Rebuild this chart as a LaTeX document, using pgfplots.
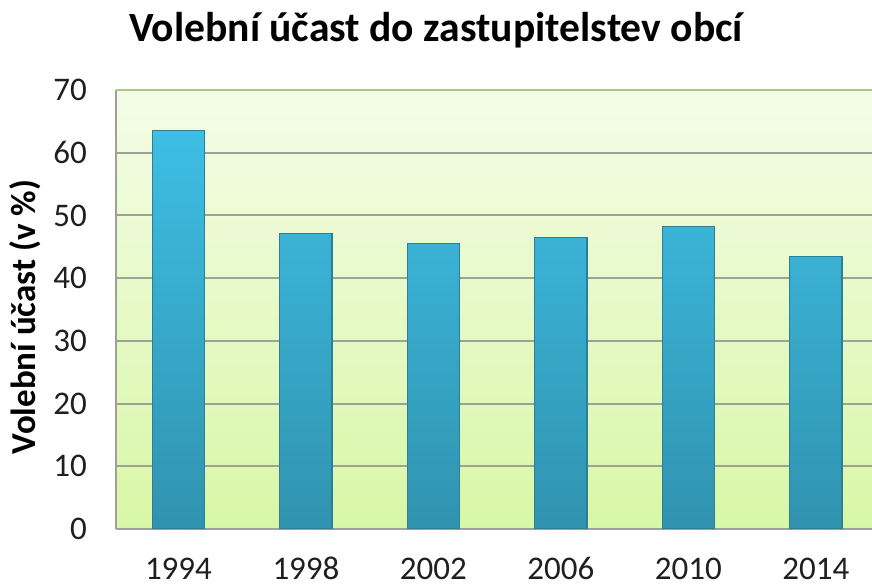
\documentclass[border=0pt]{standalone}
\usepackage{fontspec}
\setmainfont{Carlito}[Numbers=Lining]
\usepackage{pgfplots}
\pgfplotsset{compat=1.18}
\definecolor{bgtop}{HTML}{F4FCE7}
\definecolor{bgbot}{HTML}{D8F7A6}
\definecolor{bartop}{HTML}{3EBEE4}
\definecolor{barbot}{HTML}{3093AF}
\definecolor{baredge}{HTML}{2B7F99}
\definecolor{gridc}{HTML}{A0A09A}
\definecolor{topb}{HTML}{A9C97C}
\begin{document}
\begin{tikzpicture}[x=1pt,y=1pt]
\useasboundingbox (0,0) rectangle (436,294);
\begin{axis}[
  at={(58pt,29.5pt)}, anchor=south west,
  scale only axis, width=378pt, height=219.5pt,
  xmin=-0.49, xmax=5.44, ymin=0, ymax=70,
  ytick={0,10,...,70},
  xtick={0,...,5},
  xticklabels={1994,1998,2002,2006,2010,2014},
  ymajorgrids,
  grid style={gridc, line width=1pt},
  major tick length=0pt,
  axis line style={gridc, line width=1pt},
  axis x line*=bottom, axis y line*=left,
  axis background/.style={top color=bgtop, bottom color=bgbot},
  ticklabel style={font=\fontsize{16.5}{18}\selectfont, text=black!88},
  /pgf/number format/assume math mode=true,
  yticklabel style={anchor=east, xshift=-11pt},
  xticklabel style={anchor=base, yshift=-25.5pt},
  ybar, bar width=0.41,
]
\addplot[draw=baredge, line width=0.6pt, top color=bartop, bottom color=barbot]
  coordinates {(0,63.5) (1,47.1) (2,45.5) (3,46.5) (4,48.2) (5,43.5)};
\draw[topb, line width=1pt] (rel axis cs:0,1) -- (rel axis cs:1,1);
\end{axis}
\node[anchor=base, font=\bfseries\fontsize{20.8}{24}\selectfont] at (218,273) {Volební účast do zastupitelstev obcí};
\node[rotate=90, font=\bfseries\fontsize{17.5}{20}\selectfont] at (12.5,135.5) {Volební účast (v \%)};
\end{tikzpicture}
\end{document}
